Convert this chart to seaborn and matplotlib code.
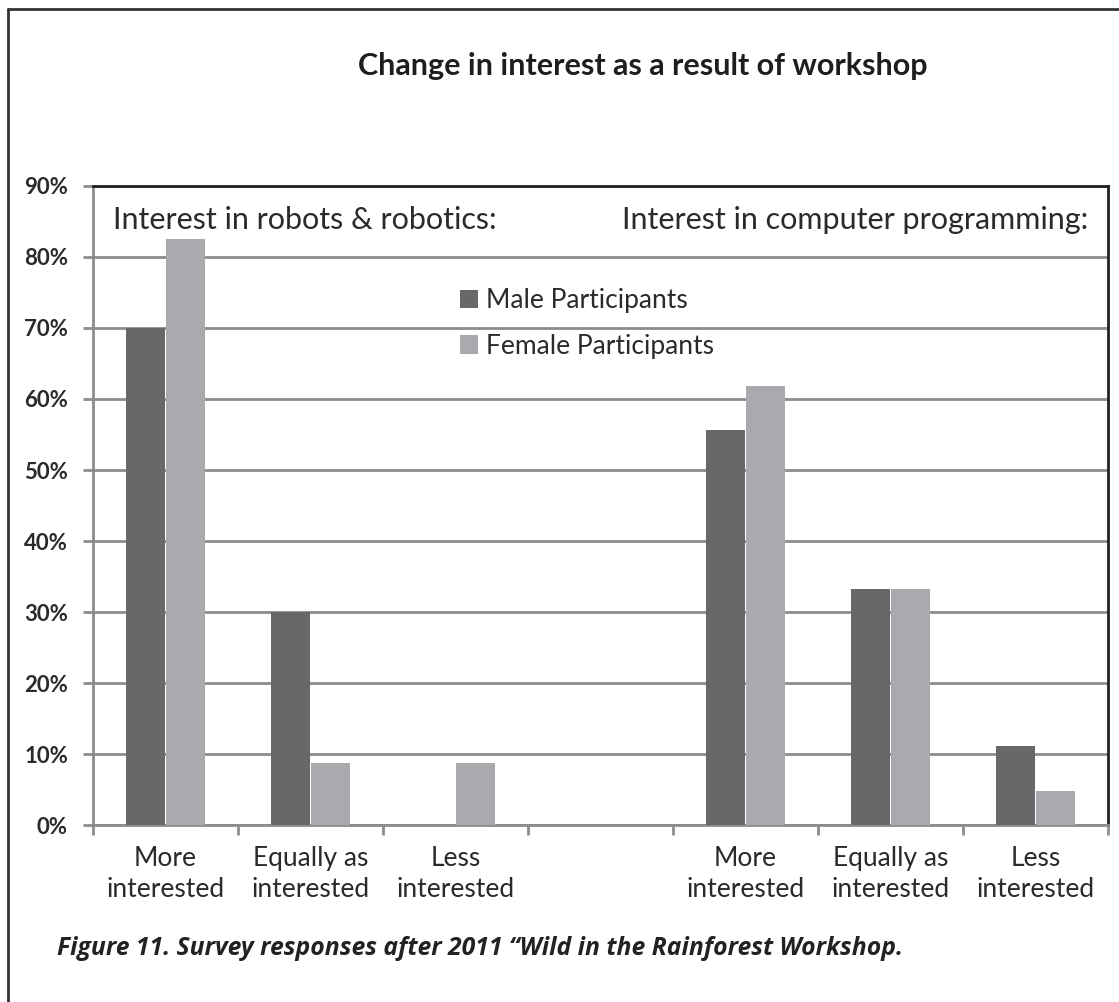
"""Change in interest after the workshop, by gender."""

import matplotlib

matplotlib.use("Agg")
import matplotlib.pyplot as plt
import pandas as pd
import seaborn as sns
from matplotlib.lines import Line2D
from matplotlib.ticker import FixedLocator, PercentFormatter

# categories: three answers for robotics, an empty slot, three for programming
slots = ["rob_more", "rob_equal", "rob_less", "gap", "prog_more", "prog_equal", "prog_less"]
slot_labels = [
    "More\ninterested", "Equally as\ninterested", "Less\ninterested", "",
    "More\ninterested", "Equally as\ninterested", "Less\ninterested",
]
bar_slots = ["rob_more", "rob_equal", "rob_less", "prog_more", "prog_equal", "prog_less"]
male = [70.0, 30.0, 0.0, 55.6, 33.3, 11.1]
female = [82.6, 8.7, 8.7, 61.9, 33.3, 4.8]
groups = ["Male Participants", "Female Participants"]
colors = ["#68686b", "#a9aaad"]

df = pd.DataFrame(
    {
        "slot": bar_slots * 2,
        "share": male + female,
        "group": [groups[0]] * len(male) + [groups[1]] * len(female),
    }
)

sns.set_theme(style="white")
plt.rcParams["font.family"] = ["Lato", "DejaVu Sans"]

fig = plt.figure(figsize=(11.19, 10.02), dpi=100)
ax = fig.add_axes([0.0831, 0.1766, 0.9071, 0.6378])

sns.barplot(
    data=df, x="slot", y="share", hue="group", order=slots, hue_order=groups,
    palette=colors, width=0.56, gap=0.04, saturation=1, errorbar=None, ax=ax,
    linewidth=0, zorder=3,
)

ax.set_ylim(0, 90)
ax.set_xlim(-0.5, len(slots) - 0.5)
ax.set_yticks(range(0, 91, 10))
ax.yaxis.set_major_formatter(PercentFormatter(decimals=0))
ax.grid(axis="y", color="#8c8c8c", linewidth=2, zorder=0)
ax.set_axisbelow(True)

ax.set_xticks(range(len(slots)))
ax.set_xticklabels(slot_labels, fontsize=19, color="#2a2a2a", linespacing=1.3)
ax.xaxis.set_minor_locator(FixedLocator([i - 0.5 for i in range(len(slots) + 1)]))
ax.tick_params(axis="x", which="major", length=0, pad=15)
ax.tick_params(axis="x", which="minor", bottom=True, length=7, width=2, color="#8c8c8c")
ax.tick_params(axis="y", left=True, length=7, width=2, color="#8c8c8c", pad=11)
for lab in ax.get_yticklabels():
    lab.set_fontsize(16)
    lab.set_fontweight("bold")
    lab.set_color("#2a2a2a")

ax.set_xlabel("")
ax.set_ylabel("")

for side in ["left", "bottom"]:
    ax.spines[side].set_color("#8c8c8c")
    ax.spines[side].set_linewidth(2)
for side in ["top", "right"]:
    ax.spines[side].set_color("#222222")
    ax.spines[side].set_linewidth(2)
    ax.spines[side].set_visible(True)

ax.text(0.0197, 0.947, "Interest in robots & robotics:", transform=ax.transAxes,
        fontsize=22, color="#2a2a2a", va="center", ha="left")
ax.text(0.981, 0.947, "Interest in computer programming:", transform=ax.transAxes,
        fontsize=22, color="#2a2a2a", va="center", ha="right")

leg = ax.legend(
    loc="upper left", bbox_to_anchor=(0.3616, 0.84), frameon=False, fontsize=19,
    handlelength=0.68, handleheight=0.68, handletextpad=0.3, labelspacing=0.78,
    borderpad=0, borderaxespad=0, labelcolor="#2a2a2a",
)

fig.text(0.5746, 0.934, "Change in interest as a result of workshop", fontsize=22,
         fontweight="bold", color="#1e1e1e", ha="center", va="center")
fig.text(0.051, 0.053, "Figure 11. Survey responses after 2011 \u201cWild in the Rainforest Workshop.",
         fontsize=17.8, fontweight="bold", style="italic", color="#222222",
         ha="left", va="center", family=["Open Sans", "DejaVu Sans"])

# page frame on the left and top edges
fig.add_artist(Line2D([0.0072, 1.0], [0.991, 0.991], transform=fig.transFigure,
                      color="#333333", linewidth=2))
fig.add_artist(Line2D([0.0072, 0.0072], [0.0, 0.991], transform=fig.transFigure,
                      color="#333333", linewidth=2))

fig.savefig("out.png", dpi=100, facecolor="white")
plt.close(fig)
